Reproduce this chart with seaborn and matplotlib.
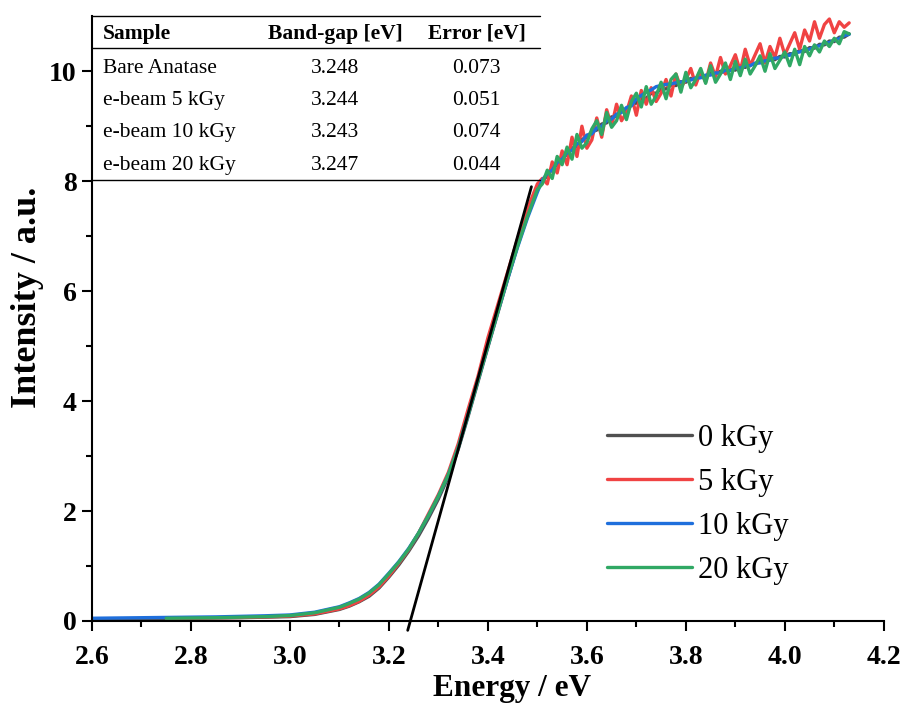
import numpy as np
import pandas as pd
import matplotlib
matplotlib.use('Agg')
import matplotlib.pyplot as plt
import seaborn as sns

# Energy axis (eV)
energy_low = [2.60, 2.65, 2.70, 2.75, 2.80, 2.85, 2.90, 2.95, 3.00, 3.05,
              3.10, 3.12, 3.14, 3.16, 3.18, 3.20, 3.22, 3.24, 3.26, 3.28,
              3.30, 3.32, 3.34, 3.36, 3.38, 3.40, 3.42, 3.44, 3.46, 3.48, 3.50]
energy_high = [3.51, 3.52, 3.53, 3.54, 3.55, 3.56, 3.57, 3.58, 3.59, 3.60,
               3.61, 3.62, 3.63, 3.64, 3.65, 3.66, 3.67, 3.68, 3.69, 3.70,
               3.71, 3.72, 3.73, 3.74, 3.75, 3.76, 3.77, 3.78, 3.79, 3.80,
               3.81, 3.82, 3.83, 3.84, 3.85, 3.86, 3.87, 3.88, 3.89, 3.90,
               3.91, 3.92, 3.93, 3.94, 3.95, 3.96, 3.97, 3.98, 3.99, 4.00,
               4.01, 4.02, 4.03, 4.04, 4.05, 4.06, 4.07, 4.08, 4.09, 4.10,
               4.11, 4.12, 4.13]

nan = np.nan
# Intensity (a.u.) for each dose
int_0kgy_low = [0.03, 0.035, 0.04, 0.045, 0.05, 0.055, 0.06, 0.07, 0.08, 0.12,
                0.21, 0.27, 0.35, 0.45, 0.60, 0.80, 1.02, 1.27, 1.55, 1.87,
                2.22, 2.62, 3.12, 3.72, 4.35, 4.98, 5.60, 6.22, 6.83, 7.38, 7.85]
int_5kgy_low = [nan, nan, nan, 0.05, 0.055, 0.06, 0.065, 0.075, 0.09, 0.13,
                0.22, 0.28, 0.36, 0.47, 0.62, 0.82, 1.05, 1.30, 1.60, 1.95,
                2.30, 2.70, 3.22, 3.85, 4.45, 5.15, 5.75, 6.35, 6.95, 7.50, 7.95]
int_10kgy_low = [0.05, 0.055, 0.06, 0.065, 0.07, 0.075, 0.085, 0.095, 0.11, 0.16,
                 0.26, 0.33, 0.41, 0.52, 0.67, 0.87, 1.08, 1.32, 1.60, 1.92,
                 2.27, 2.66, 3.15, 3.75, 4.38, 5.00, 5.62, 6.22, 6.80, 7.33, 7.80]
int_20kgy_low = [nan, nan, nan, 0.05, 0.055, 0.06, 0.07, 0.08, 0.10, 0.15,
                 0.25, 0.32, 0.40, 0.51, 0.66, 0.86, 1.07, 1.31, 1.60, 1.92,
                 2.27, 2.66, 3.15, 3.75, 4.38, 5.00, 5.62, 6.24, 6.82, 7.36, 7.85]

int_0kgy_high = [8.00, 8.10, 8.24, 8.30, 8.44, 8.48, 8.60, 8.64, 8.76, 8.80,
                 8.90, 8.93, 9.04, 9.06, 9.17, 9.18, 9.28, 9.30, 9.40, 9.42,
                 9.50, 9.51, 9.60, 9.60, 9.68, 9.68, 9.75, 9.74, 9.81, 9.80,
                 9.87, 9.85, 9.91, 9.90, 9.96, 9.94, 10.00, 9.98, 10.04, 10.02,
                 10.09, 10.07, 10.13, 10.12, 10.18, 10.16, 10.23, 10.21, 10.27, 10.26,
                 10.32, 10.31, 10.38, 10.36, 10.43, 10.42, 10.49, 10.48, 10.55, 10.54,
                 10.62, 10.62, 10.68]
int_5kgy_high = [8.05, 7.95, 8.35, 8.15, 8.55, 8.30, 8.80, 8.45, 9.00, 8.60,
                 8.75, 9.15, 8.80, 9.30, 9.00, 9.40, 9.10, 9.25, 9.55, 9.20,
                 9.65, 9.40, 9.70, 9.45, 9.60, 9.85, 9.55, 9.95, 9.70, 9.85,
                 10.05, 9.75, 10.00, 9.80, 10.15, 9.90, 10.25, 9.95, 10.10, 10.30,
                 10.00, 10.40, 10.10, 10.30, 10.50, 10.15, 10.45, 10.25, 10.60, 10.30,
                 10.50, 10.70, 10.40, 10.75, 10.55, 10.90, 10.60, 10.85, 10.95, 10.70,
                 10.90, 10.80, 10.88]
int_10kgy_high = [8.02, 8.14, 8.20, 8.34, 8.40, 8.52, 8.56, 8.68, 8.72, 8.84,
                  8.86, 8.97, 9.00, 9.10, 9.13, 9.22, 9.25, 9.34, 9.37, 9.50,
                  9.56, 9.62, 9.66, 9.72, 9.74, 9.76, 9.77, 9.79, 9.80, 9.83,
                  9.84, 9.88, 9.88, 9.93, 9.93, 9.97, 9.97, 10.02, 10.01, 10.06,
                  10.06, 10.10, 10.10, 10.15, 10.15, 10.19, 10.20, 10.24, 10.24, 10.29,
                  10.29, 10.34, 10.35, 10.39, 10.40, 10.45, 10.46, 10.51, 10.52, 10.57,
                  10.59, 10.65, 10.67]
int_20kgy_high = [7.95, 8.20, 8.05, 8.45, 8.30, 8.62, 8.40, 8.85, 8.60, 8.70,
                  8.95, 9.10, 8.85, 9.25, 8.98, 9.10, 9.38, 9.12, 9.45, 9.60,
                  9.35, 9.72, 9.40, 9.55, 9.80, 9.50, 9.85, 9.95, 9.62, 9.98,
                  9.70, 9.85, 10.05, 9.78, 10.10, 9.80, 9.95, 10.15, 9.85, 10.18,
                  9.92, 10.22, 9.95, 10.10, 10.28, 10.00, 10.32, 10.05, 10.20, 10.35,
                  10.10, 10.40, 10.12, 10.45, 10.28, 10.48, 10.35, 10.55, 10.45, 10.60,
                  10.50, 10.72, 10.68]

# Tauc-type linear fit drawn on the absorption edge
fit_energy = [3.238, 3.488]
fit_intensity = [-0.17, 7.90]

doses = ['0 kGy', '5 kGy', '10 kGy', '20 kGy']
colours = {'0 kGy': '#505050', '5 kGy': '#f04343',
           '10 kGy': '#1f6fdc', '20 kGy': '#30a864'}

# Inset table
table_header = ['Sample', 'Band-gap [eV]', 'Error [eV]']
table_samples = ['Bare Anatase', 'e-beam 5 kGy', 'e-beam 10 kGy', 'e-beam 20 kGy']
table_gap = ['3.248', '3.244', '3.243', '3.247']
table_err = ['0.073', '0.051', '0.074', '0.044']


def build_frame():
    energy = energy_low + energy_high
    series = {'0 kGy': int_0kgy_low + int_0kgy_high,
              '5 kGy': int_5kgy_low + int_5kgy_high,
              '10 kGy': int_10kgy_low + int_10kgy_high,
              '20 kGy': int_20kgy_low + int_20kgy_high}
    frames = []
    for dose, vals in series.items():
        frames.append(pd.DataFrame({'Energy': energy, 'Intensity': vals, 'Dose': dose}))
    return pd.concat(frames, ignore_index=True).dropna()


def main():
    df = build_frame()

    sns.set_theme(style='ticks')
    plt.rcParams['font.family'] = ['Liberation Serif', 'DejaVu Serif']
    plt.rcParams.update({'text.color': 'black', 'axes.labelcolor': 'black',
                         'xtick.color': 'black', 'ytick.color': 'black'})

    fig = plt.figure(figsize=(9.06, 7.04), dpi=100)
    ax = fig.add_axes([0.1015, 0.1179, 0.874, 0.859])

    sns.lineplot(ax=ax, data=df, x='Energy', y='Intensity', hue='Dose',
                 hue_order=doses, palette=colours, sort=False, estimator=None, lw=2.4)
    ax.plot(fit_energy, fit_intensity, color='black', lw=2.0, clip_on=False, zorder=5)

    ax.set_xlim(2.6, 4.2)
    ax.set_ylim(0, 11)
    ax.set_xticks(np.linspace(2.6, 4.2, 9))
    ax.set_xticks(np.linspace(2.7, 4.1, 8), minor=True)
    ax.set_xticklabels([f'{v:.1f}' for v in np.linspace(2.6, 4.2, 9)])
    ax.set_yticks([0, 2, 4, 6, 8, 10])
    ax.set_yticks([1, 3, 5, 7, 9], minor=True)
    ax.tick_params(which='major', direction='out', length=7, width=1.5,
                   labelsize=20, pad=4)
    ax.tick_params(axis='x', which='major', pad=10)
    ax.tick_params(which='minor', direction='out', length=4.5, width=1.5)
    for lab in ax.get_xticklabels() + ax.get_yticklabels():
        lab.set_fontweight('bold')

    sns.despine(ax=ax)
    for side in ['left', 'bottom']:
        ax.spines[side].set_linewidth(1.5)
        ax.spines[side].set_color('black')

    ax.set_xlabel('Energy / eV', fontsize=22.5, fontweight='bold', labelpad=3)
    ax.set_ylabel('Intensity / a.u.', fontsize=26, fontweight='bold', labelpad=4)
    # the labels sit a little off-centre in the original
    ax.xaxis.label.set_x(0.5305)
    ax.yaxis.label.set_y(0.536)

    ax.legend(frameon=False, loc='lower left', bbox_to_anchor=(0.650, 0.060),
              borderaxespad=0, borderpad=0, handlelength=2.78, handletextpad=0.2,
              labelspacing=0.49, fontsize=22)

    # Inset table in axes fraction
    tr = ax.transAxes
    x_right = 0.566
    for yy in [1.0, 0.947, 0.729]:
        ax.plot([0, x_right], [yy, yy], transform=tr, color='black', lw=1.0, clip_on=False)
    ax.text(0.0139, 0.971, table_header[0], transform=tr, fontsize=15.5,
            fontweight='bold', ha='left', va='center')
    ax.text(0.307, 0.971, table_header[1], transform=tr, fontsize=15.5,
            fontweight='bold', ha='center', va='center')
    ax.text(0.486, 0.971, table_header[2], transform=tr, fontsize=15.5,
            fontweight='bold', ha='center', va='center')
    row_y = [0.913, 0.860, 0.808, 0.754]
    for yy, name, gap, err in zip(row_y, table_samples, table_gap, table_err):
        ax.text(0.0139, yy, name, transform=tr, fontsize=15.5, ha='left', va='center')
        ax.text(0.307, yy, gap, transform=tr, fontsize=15.5, ha='center', va='center')
        ax.text(0.486, yy, err, transform=tr, fontsize=15.5, ha='center', va='center')

    fig.savefig('out.png', dpi=100)


if __name__ == "__main__":
    main()
